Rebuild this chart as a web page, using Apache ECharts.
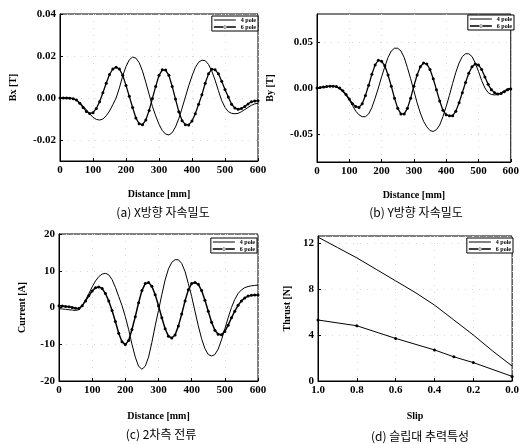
<!DOCTYPE html>
<html><head><meta charset="utf-8">
<script src="https://cdn.jsdelivr.net/npm/echarts@6/dist/echarts.min.js"></script>
<style>html,body{margin:0;padding:0;background:#fff}#c{width:522px;height:444px}</style>
</head><body><div id="c"></div>
<script>
const distance = [0,10,20,30,40,50,60,70,80,90,100,110,120,130,140,150,160,170,180,190,200,210,220,230,240,250,260,270,280,290,300,310,320,330,340,350,360,370,380,390,400,410,420,430,440,450,460,470,480,490,500,510,520,530,540,550,560,570,580,590,600];
const legendNames = ['4 pole','6 pole'];
const bx4 = [0,0,0,-0.0001,-0.0003,-0.001,-0.0022,-0.0038,-0.0056,-0.0075,-0.0092,-0.0102,-0.0105,-0.01,-0.0085,-0.0062,-0.0032,0,0.0048,0.0105,0.015,0.0182,0.0195,0.019,0.0168,0.0128,0.0075,0.0018,-0.004,-0.0085,-0.0125,-0.0155,-0.0172,-0.0176,-0.0165,-0.0138,-0.0098,-0.0048,0.0005,0.0058,0.0105,0.0145,0.017,0.018,0.0178,0.016,0.0128,0.0085,0.0035,-0.0012,-0.0045,-0.0065,-0.0073,-0.0075,-0.0073,-0.0065,-0.0055,-0.0045,-0.0035,-0.0028,-0.0025];
const bx6 = [0,0,0,-0.0001,-0.0003,-0.001,-0.0025,-0.0045,-0.0064,-0.0074,-0.007,-0.005,-0.0018,0.0025,0.007,0.0112,0.0138,0.0147,0.0138,0.0108,0.006,0.0008,-0.0045,-0.0095,-0.0123,-0.0127,-0.0105,-0.006,-0.0002,0.0055,0.0108,0.0134,0.0133,0.0108,0.0055,-0.0005,-0.0065,-0.0108,-0.0127,-0.0128,-0.011,-0.0075,-0.003,0.0015,0.007,0.0115,0.0137,0.0135,0.0115,0.008,0.004,0.0005,-0.003,-0.0048,-0.0053,-0.005,-0.004,-0.0028,-0.0018,-0.0014,-0.0013];
const by4 = [0,0.0005,0.001,0.0015,0.002,0.002,0.001,-0.001,-0.004,-0.008,-0.013,-0.019,-0.025,-0.029,-0.031,-0.031,-0.028,-0.021,-0.011,0,0.012,0.023,0.033,0.04,0.043,0.043,0.04,0.033,0.022,0.01,-0.003,-0.016,-0.027,-0.036,-0.042,-0.046,-0.047,-0.045,-0.04,-0.031,-0.02,-0.008,0.005,0.017,0.027,0.034,0.037,0.037,0.034,0.027,0.018,0.008,0,-0.005,-0.007,-0.0075,-0.007,-0.005,-0.003,-0.001,0];
const by6 = [0,0.0005,0.001,0.0015,0.002,0.002,0.0015,0,-0.003,-0.007,-0.012,-0.017,-0.02,-0.021,-0.017,-0.008,0.003,0.015,0.025,0.03,0.029,0.024,0.014,0.002,-0.011,-0.022,-0.028,-0.028,-0.022,-0.011,0.002,0.014,0.023,0.027,0.026,0.02,0.01,-0.002,-0.014,-0.024,-0.029,-0.03,-0.03,-0.025,-0.016,-0.005,0.006,0.016,0.023,0.026,0.025,0.02,0.012,0.004,-0.002,-0.005,-0.0065,-0.006,-0.004,-0.002,-0.001];
const cur4 = [-0.3,-0.4,-0.5,-0.6,-0.7,-0.8,-0.6,0.5,2.0,3.8,5.6,7.2,8.4,9.1,9.3,8.9,7.6,5.5,3.0,0.5,-2.5,-6.0,-10.0,-13.5,-16.0,-16.8,-16.0,-13.5,-9.5,-5.0,-0.8,3.5,7.5,10.5,12.3,13.0,13.0,12.0,9.8,6.5,3.0,-1.0,-5.0,-8.5,-11.2,-12.8,-13.2,-12.8,-11.3,-8.8,-5.8,-2.8,0.0,2.2,3.8,4.8,5.4,5.7,5.9,6.0,6.1];
const cur6 = [0.5,0.4,0.3,0.2,0.0,-0.2,-0.3,0.5,1.8,3.2,4.5,5.4,5.6,5.2,3.8,1.8,-0.8,-3.8,-7.0,-9.3,-10.1,-9.0,-6.0,-2.5,1.3,4.6,6.5,6.8,5.8,3.5,0.5,-2.8,-5.8,-7.8,-8.3,-7.5,-5.0,-1.8,1.8,4.8,6.5,6.8,6.3,4.6,2.0,-1.0,-4.0,-6.2,-7.3,-7.4,-6.5,-4.8,-2.8,-1.0,0.6,1.8,2.6,3.1,3.3,3.4,3.4];
const slip4 = [1.0,0.9,0.8,0.7,0.6,0.5,0.4,0.3,0.2,0.1,0.0];
const thrust4 = [12.5,11.6,10.7,9.7,8.7,7.7,6.6,5.3,4.0,2.6,1.3];
const slip6 = [1.0,0.8,0.6,0.4,0.3,0.2,0.0];
const thrust6 = [5.3,4.8,3.7,2.7,2.1,1.6,0.4];
const bxTicks = [-0.02,0,0.02,0.04];
const byTicks = [-0.05,0,0.05];
const captions = ['(a) X방향 자속밀도','(b) Y방향 자속밀도','(c) 2차측 전류','(d) 슬립대 추력특성'];

const pair = (xs, ys) => xs.map((x, i) => [x, ys[i]]);
const serif = 'Liberation Serif';
const lab = {fontFamily: serif, fontWeight: 'bold', fontSize: 11, color: '#000'};
const nameSty = {fontFamily: serif, fontWeight: 'bold', fontSize: 10, color: '#000'};
const axLine = {show: true, onZero: false, lineStyle: {color: '#000', width: 1}};
const split = {show: true, lineStyle: {color: '#d8d8d8', type: [1, 6], width: 1}};
const tick = {inside: true, length: 3, lineStyle: {color: '#000'}};

const grids = [
  {left: 60, top: 14, width: 198, height: 147},
  {left: 317, top: 14, width: 197, height: 148},
  {left: 59, top: 234, width: 199, height: 147},
  {left: 318, top: 236, width: 195, height: 145}
].map(g => Object.assign({show: true, borderColor: '#000', borderWidth: 1, backgroundColor: 'transparent'}, g));

function xAx(i, name, extra) {
  return Object.assign({type: 'value', gridIndex: i, min: 0, max: 600, interval: 100,
    name: name, nameLocation: 'middle', nameGap: 28, nameTextStyle: nameSty,
    axisLine: axLine, axisTick: tick,
    axisLabel: Object.assign({margin: 4}, lab), splitLine: split}, extra || {});
}
function yAx(i, name, extra) {
  return Object.assign({type: 'value', gridIndex: i,
    name: name, nameLocation: 'middle', nameGap: 42, nameTextStyle: nameSty,
    axisLine: axLine, axisTick: tick,
    axisLabel: Object.assign({margin: 4}, lab), splitLine: split}, extra || {});
}

const s4 = (i, d) => ({type: 'line', name: legendNames[0], xAxisIndex: i, yAxisIndex: i, data: d,
  symbol: 'none', lineStyle: {color: '#000', width: 1}, itemStyle: {color: '#000'}});
const s6 = (i, d, size, w) => ({type: 'line', name: legendNames[1], xAxisIndex: i, yAxisIndex: i, data: d,
  symbol: 'circle', symbolSize: size, showSymbol: true, lineStyle: {color: '#000', width: w}, itemStyle: {color: '#000'}});

const iconLine = 'path://M0,2.4L22,2.4L22,3.4L0,3.4Z';
const iconMark = 'path://M0,2.2L22,2.2L22,3.6L0,3.6Z M9.5,2.9a1.6,1.6 0 1,0 3.2,0a1.6,1.6 0 1,0 -3.2,0Z';

const legendPos = [
  {right: 264, top: 16}, {right: 8, top: 15}, {right: 265, top: 238}, {right: 9, top: 238}
];
const legends = legendPos.map((p, i) => Object.assign({
  data: [{name: legendNames[0], icon: iconLine}, {name: legendNames[1], icon: iconMark}],
  orient: 'vertical', itemWidth: 22, itemHeight: 6, itemGap: 1,
  padding: [1, 2, 1, 2], borderColor: '#000', borderWidth: 1, backgroundColor: '#fff',
  textStyle: {fontFamily: serif, fontWeight: 'bold', fontSize: 6, color: '#000'},
  itemStyle: {color: '#000', borderWidth: 0},
  selectedMode: false
}, p));

const captionPos = [[158, 201], [411, 201], [156, 423], [415, 425]];
const titles = captions.map((t, i) => ({text: t, left: captionPos[i][0], top: captionPos[i][1], textAlign: 'center',
  textStyle: {fontFamily: 'Noto Sans CJK KR', fontWeight: 'normal', fontSize: 12, color: '#000'}}));

const option = {
  animation: false,
  backgroundColor: '#fff',
  title: titles,
  legend: legends,
  grid: grids,
  xAxis: [
    xAx(0, 'Distance [mm]'),
    xAx(1, 'Distance [mm]'),
    xAx(2, 'Distance [mm]', {nameGap: 30}),
    xAx(3, 'Slip', {min: 0, max: 1, interval: 0.2, inverse: true, nameGap: 30,
      axisLabel: Object.assign({margin: 4, formatter: v => v.toFixed(1)}, lab)})
  ],
  yAxis: [
    yAx(0, 'Bx [T]', {min: -0.03, max: 0.04,
      axisLabel: Object.assign({margin: 4, customValues: bxTicks, formatter: v => v.toFixed(2)}, lab),
      axisTick: Object.assign({customValues: bxTicks}, tick)}),
    yAx(1, 'By [T]', {min: -0.08, max: 0.08,
      axisLabel: Object.assign({margin: 4, customValues: byTicks, formatter: v => v.toFixed(2)}, lab),
      axisTick: Object.assign({customValues: byTicks}, tick)}),
    yAx(2, 'Current [A]', {min: -20, max: 20, interval: 10, nameGap: 32}),
    yAx(3, 'Thrust [N]', {min: 0, max: 12.6, interval: 4, nameGap: 26,
      axisLabel: Object.assign({margin: 4, showMaxLabel: false}, lab)})
  ],
  series: [
    s4(0, pair(distance, bx4)), s6(0, pair(distance, bx6), 3, 1.3),
    s4(1, pair(distance, by4)), s6(1, pair(distance, by6), 3, 1.3),
    s4(2, pair(distance, cur4)), s6(2, pair(distance, cur6), 3, 1.5),
    s4(3, pair(slip4, thrust4)), s6(3, pair(slip6, thrust6), 3, 1)
  ]
};
const chart = echarts.init(document.getElementById('c'), null, {renderer: 'canvas'});
chart.setOption(option);
</script></body></html>
